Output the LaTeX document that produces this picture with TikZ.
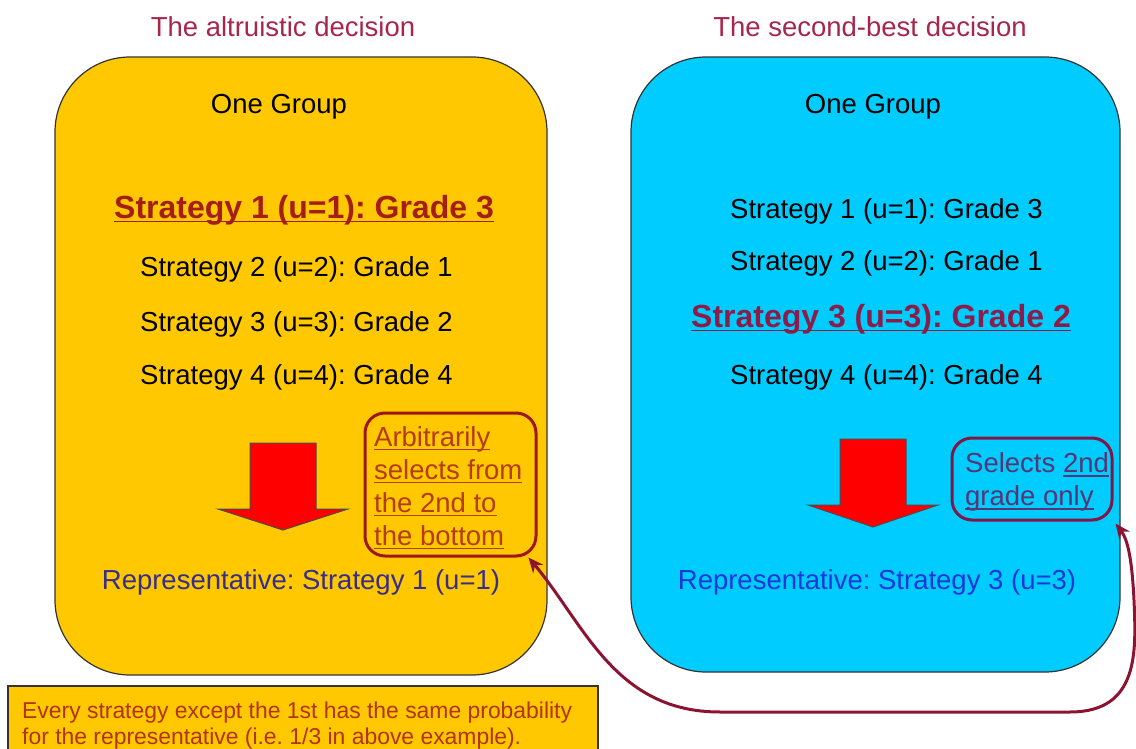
\documentclass[tikz,border=0pt]{standalone}
\usepackage{fontspec}
\setmainfont{Liberation Sans}
\usetikzlibrary{arrows.meta}
\definecolor{boxorange}{RGB}{255,200,0}
\definecolor{boxcyan}{RGB}{0,204,255}
\definecolor{titlered}{RGB}{168,38,78}
\definecolor{leftbold}{RGB}{165,30,22}
\definecolor{rightbold}{RGB}{140,28,72}
\definecolor{callLtext}{RGB}{180,60,15}
\definecolor{callLline}{RGB}{158,22,30}
\definecolor{callRtext}{RGB}{85,55,115}
\definecolor{callRline}{RGB}{130,22,70}
\definecolor{repL}{RGB}{55,45,140}
\definecolor{repR}{RGB}{25,55,220}
\definecolor{notetext}{RGB}{180,50,12}
\definecolor{curvecol}{RGB}{140,20,50}
\definecolor{arrowred}{RGB}{255,0,0}
\newcommand\ulx[1]{\leavevmode\setbox0\hbox{#1}\rlap{\rule[-4pt]{\wd0}{1.4pt}}\box0}
\tikzset{
  bigbox/.style={draw=black!80, line width=1.2pt, rounded corners=75pt, inner sep=0pt},
  txt/.style={font=\fontsize{27.5}{33}\selectfont, inner sep=0pt},
  boldtxt/.style={font=\fontsize{32}{38}\selectfont\bfseries, inner sep=0pt},
  callout/.style={rounded corners=20pt, line width=3pt, inner sep=0pt},
  calltext/.style={inner sep=0pt, align=left, anchor=west, font=\fontsize{27.5}{33}\selectfont},
  downarrow/.style={fill=arrowred, draw=black!70, line width=1pt, line join=miter},
  notebox/.style={draw=black!80, line width=1.2pt, fill=boxorange}
}
\begin{document}
\frenchspacing
\begin{tikzpicture}[x=1pt,y=-1pt]
\useasboundingbox (0,0) rectangle (1136,749);
\clip (0,0) rectangle (1136,749);
% main boxes
\node[bigbox, fill=boxorange, minimum width=492pt, minimum height=618pt] (boxL) at (301,366) {};
\node[bigbox, fill=boxcyan, minimum width=489pt, minimum height=615pt] (boxR) at (875.5,364.5) {};
% titles
\node[txt, text=titlered] (titleL) at (283,26.5) {The altruistic decision};
\node[txt, text=titlered] (titleR) at (870,26.5) {The second-best decision};
% one group
\node[txt] (groupL) at (279,106.5) {One Group};
\node[txt] (groupR) at (873,106.5) {One Group};
% left strategies
\node[boldtxt, text=leftbold] (sL1) at (304,210) {\ulx{Strategy 1 (u=1): Grade 3}};
\node[txt, anchor=west] (sL2) at (140,269.5) {Strategy 2 (u=2): Grade 1};
\node[txt, anchor=west] (sL3) at (140,324.5) {Strategy 3 (u=3): Grade 2};
\node[txt, anchor=west] (sL4) at (140,377.5) {Strategy 4 (u=4): Grade 4};
% right strategies
\node[txt, anchor=west] (sR1) at (730,211.5) {Strategy 1 (u=1): Grade 3};
\node[txt, anchor=west] (sR2) at (730,263.5) {Strategy 2 (u=2): Grade 1};
\node[boldtxt, text=rightbold] (sR3) at (881,319) {\ulx{Strategy 3 (u=3): Grade 2}};
\node[txt, anchor=west] (sR4) at (730,377.5) {Strategy 4 (u=4): Grade 4};
% red down arrows
\draw[downarrow] (250,443) -- (316,443) -- (316,509) -- (348,509) -- (283,530) -- (218,509) -- (250,509) -- cycle;
\draw[downarrow] (840,439) -- (906,439) -- (906,505) -- (938,505) -- (873,527) -- (808,505) -- (840,505) -- cycle;
% callouts
\node[callout, draw=callLline, minimum width=171pt, minimum height=143pt] (cL) at (450.5,484.5) {};
\node[calltext, text=callLtext] (cLt) at (374,488)
  {\ulx{Arbitrarily}\\\ulx{selects from}\\\ulx{the 2nd to}\\\ulx{the bottom}};
\node[callout, draw=callRline, minimum width=160pt, minimum height=82pt] (cR) at (1032,479) {};
\node[calltext, text=callRtext] (cRt) at (965,482)
  {Selects \ulx{2nd}\\\ulx{grade only}};
% representatives
\node[txt, text=repL] (repLn) at (301,582.5) {Representative: Strategy 1 (u=1)};
\node[txt, text=repR] (repRn) at (877,582.5) {Representative: Strategy 3 (u=3)};
% connector
\draw[curvecol, line width=3pt, {Stealth[length=15pt,width=13pt]}-{Stealth[length=15pt,width=13pt]}]
  ([shift={(-9,0)}]cL.south east) .. controls (585,625) and (615,712) .. (720,712)
  -- (1070,712) .. controls (1140,712) and (1136,650) .. (1134,600)
  .. controls (1132,560) and (1128,540) .. ([shift={(2,2)}]cR.south east);
% note box
\draw[notebox] (8,686) rectangle (598,770);
\node[font=\fontsize{22.9}{26}\selectfont, inner sep=0pt, anchor=north west, align=left, text=notetext] (note) at (22,702)
  {Every strategy except the 1st has the same probability\\for the representative (i.e. 1/3 in above example).};
\end{tikzpicture}
\end{document}
